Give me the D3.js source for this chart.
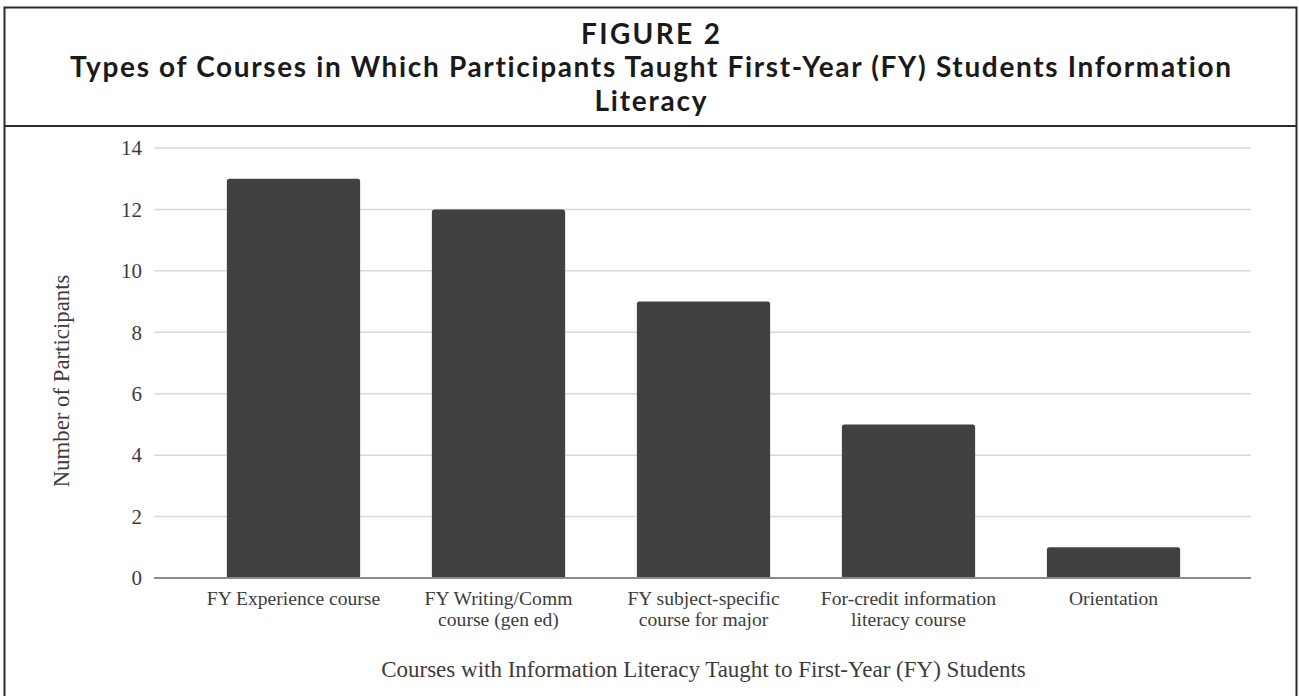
<!DOCTYPE html>
<html>
<head>
<meta charset="utf-8">
<script src="https://cdn.jsdelivr.net/npm/d3@7/dist/d3.min.js"></script>
<style>
  html, body { margin: 0; padding: 0; background: #fff; }
  svg { display: block; }
  text.heading { font-variant-ligatures: none; }
</style>
</head>
<body>
<svg id="chart" width="1299" height="696"></svg>
<script>
// Figure text
const figureLabel = "FIGURE 2";
const titleLines = [
  "Types of Courses in Which Participants Taught First-Year (FY) Students Information",
  "Literacy"
];
const yAxisTitle = "Number of Participants";
const xAxisTitle = "Courses with Information Literacy Taught to First-Year (FY) Students";

// Categories (each entry is the wrapped label lines) and counts
const categories = [
  ["FY Experience course"],
  ["FY Writing/Comm", "course (gen ed)"],
  ["FY subject-specific", "course for major"],
  ["For-credit information", "literacy course"],
  ["Orientation"]
];
const participants = [13, 12, 9, 5, 1];
const yTicks = [0, 2, 4, 6, 8, 10, 12, 14];

const svg = d3.select("#chart");

// Frame: outer box and divider under the heading
const frame = svg.append("g").attr("fill", "none").attr("stroke", "#2b2b2b").attr("stroke-width", 2);
frame.append("rect").attr("x", 4.5).attr("y", 7.5).attr("width", 1292).attr("height", 720);
frame.append("line").attr("x1", 4.5).attr("x2", 1296.5).attr("y1", 126).attr("y2", 126);

// Heading: three centred lines, each set to its measured width
const headFont = "Lato, 'Open Sans', sans-serif";
const heading = [
  { text: figureLabel, y: 43.5, width: 139 },
  { text: titleLines[0], y: 77, width: 1161 },
  { text: titleLines[1], y: 110.5, width: 112 }
];
svg.selectAll("text.heading").data(heading).join("text")
  .attr("class", "heading")
  .attr("x", 650.5).attr("y", d => d.y)
  .attr("text-anchor", "middle")
  .attr("font-family", headFont).attr("font-weight", 700)
  .attr("font-size", 28).attr("fill", "#1a1a1a")
  .attr("textLength", d => d.width)
  .attr("lengthAdjust", "spacing")
  .text(d => d.text);

// Plot area
const plot = { left: 154, right: 1251, top: 148, bottom: 578 };
const serif = "'Liberation Serif', 'Times New Roman', serif";
const ink = "#3c3c3c";

const y = d3.scaleLinear().domain([0, 14]).range([plot.bottom, plot.top]);
const x = d3.scaleBand()
  .domain(d3.range(categories.length))
  .range([191, 1216])
  .paddingInner(0.35)
  .paddingOuter(0.175);

// Gridlines
svg.append("g")
  .selectAll("line").data(yTicks.filter(t => t > 0)).join("line")
  .attr("x1", plot.left).attr("x2", plot.right)
  .attr("y1", d => y(d)).attr("y2", d => y(d))
  .attr("stroke", "#d9d9d9").attr("stroke-width", 1.5);

// Y axis tick labels
const yAxis = d3.axisLeft(y).tickValues(yTicks).tickSize(0).tickPadding(12);
const yg = svg.append("g").attr("transform", `translate(${plot.left},0)`).call(yAxis);
yg.select(".domain").remove();
yg.selectAll("text")
  .attr("font-family", serif).attr("font-size", 21).attr("fill", ink);

// Bars with slightly rounded top corners
const bar = (d, i) => {
  const x0 = x(i), x1 = x(i) + x.bandwidth();
  const y0 = y(d), y1 = y(0), r = 2.5;
  return `M${x0},${y1}V${y0 + r}Q${x0},${y0} ${x0 + r},${y0}H${x1 - r}Q${x1},${y0} ${x1},${y0 + r}V${y1}Z`;
};
svg.append("g")
  .selectAll("path").data(participants).join("path")
  .attr("d", bar)
  .attr("fill", "#414141");

// Baseline
svg.append("line")
  .attr("x1", plot.left).attr("x2", plot.right)
  .attr("y1", y(0)).attr("y2", y(0))
  .attr("stroke", "#8a8a8a").attr("stroke-width", 2);

// Category labels
const xg = svg.append("g");
categories.forEach((lines, i) => {
  const cx = x(i) + x.bandwidth() / 2;
  const t = xg.append("text")
    .attr("x", cx).attr("y", 605)
    .attr("text-anchor", "middle")
    .attr("font-family", serif).attr("font-size", 19.6).attr("fill", ink);
  lines.forEach((ln, j) => {
    t.append("tspan").attr("x", cx).attr("dy", j === 0 ? 0 : 21).text(ln);
  });
});

// Axis titles
svg.append("text")
  .attr("transform", `translate(69,381) rotate(-90)`)
  .attr("text-anchor", "middle")
  .attr("font-family", serif).attr("font-size", 22.8).attr("fill", ink)
  .text(yAxisTitle);

svg.append("text")
  .attr("x", x.range()[0] / 2 + x.range()[1] / 2).attr("y", 677)
  .attr("text-anchor", "middle")
  .attr("font-family", serif).attr("font-size", 23).attr("fill", ink)
  .text(xAxisTitle);
</script>
</body>
</html>
